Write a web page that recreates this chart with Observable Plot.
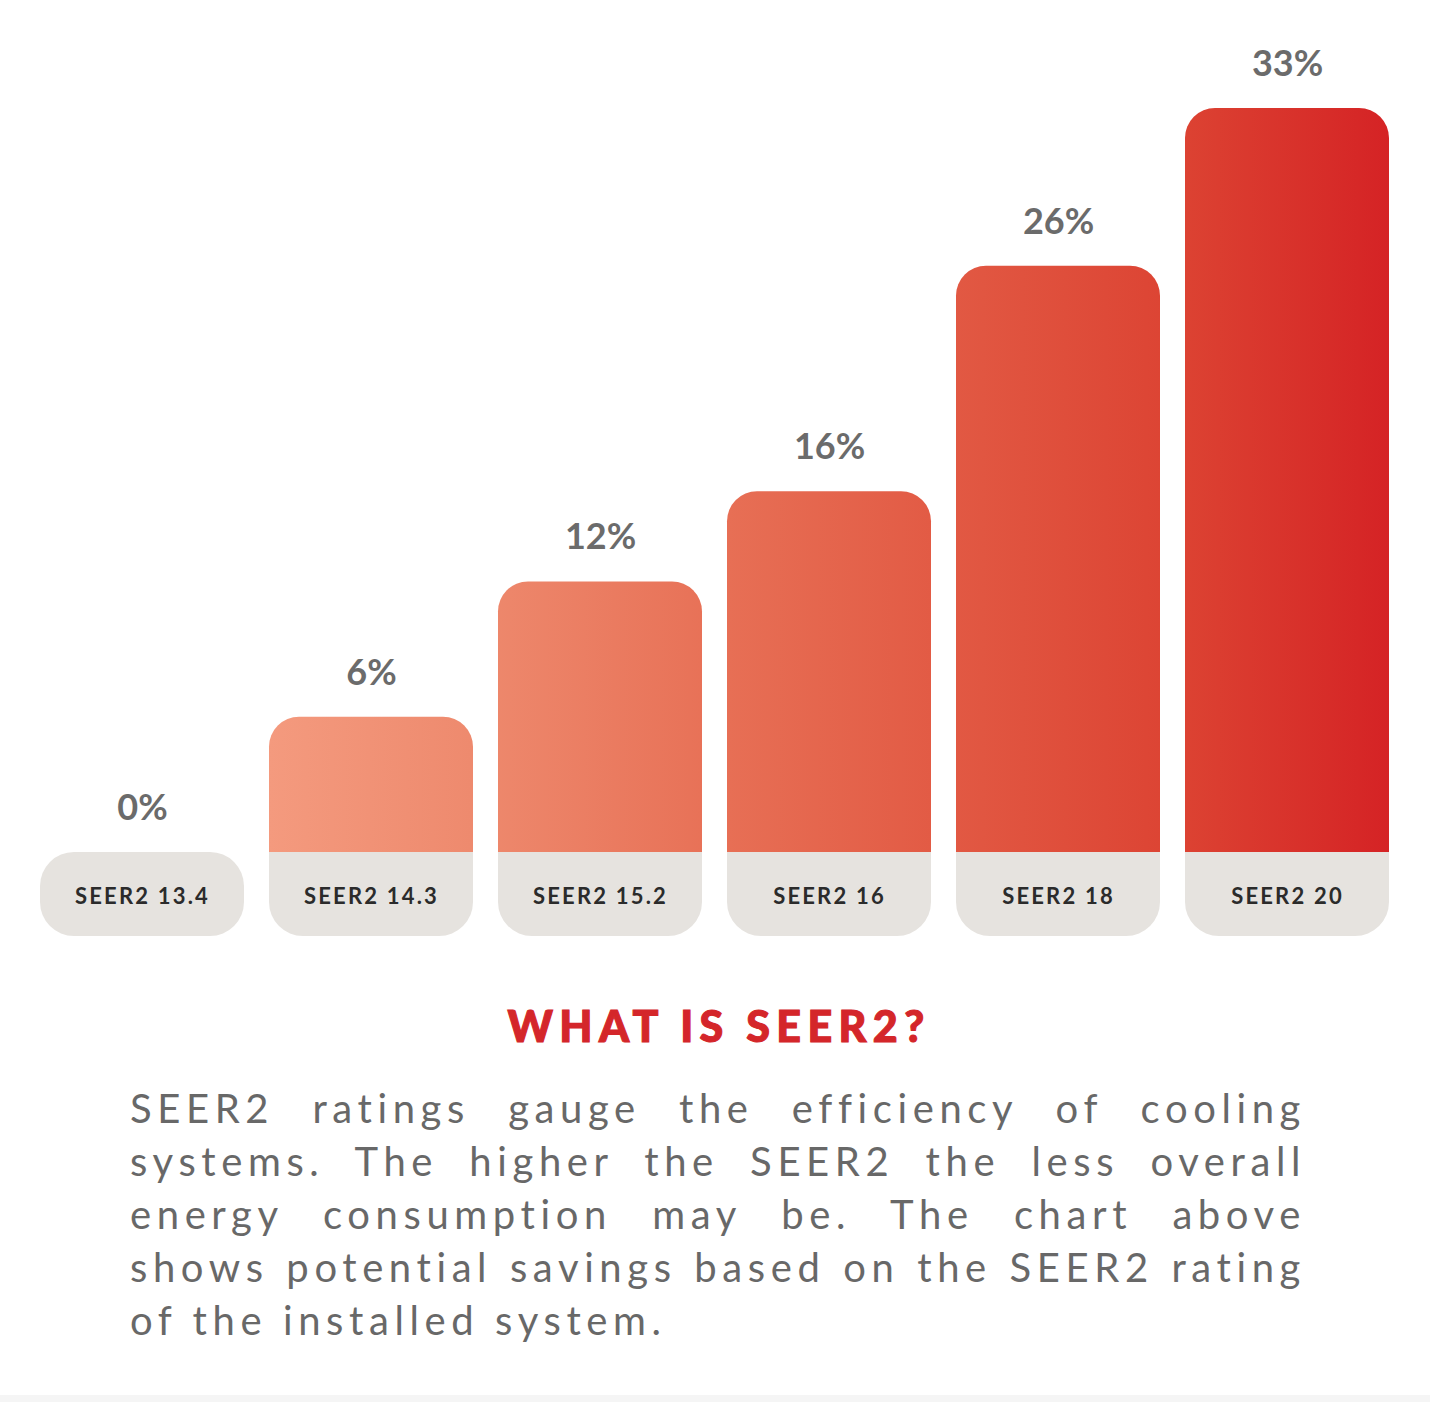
<!DOCTYPE html>
<html>
<head>
<meta charset="utf-8">
<script src="https://cdn.jsdelivr.net/npm/d3@7"></script>
<script src="https://cdn.jsdelivr.net/npm/@observablehq/plot@0.6"></script>
<style>
  html, body { margin: 0; padding: 0; background: #ffffff; }
  body { font-family: Lato, "Noto Sans", sans-serif; width: 1430px; height: 1402px; position: relative; overflow: hidden; }
  #chart { position: absolute; left: 0; top: 0; }
  #title { position: absolute; left: 0; top: 1001px; width: 1432px; padding-left: 6px; box-sizing: border-box; text-align: center; margin: 0;
           color: #d4262a; font-weight: 900; font-size: 43px; line-height: 50px; letter-spacing: 6.4px;
           -webkit-text-stroke: 1.1px #d4262a; }
  #desc { position: absolute; left: 130px; top: 1082px; width: 1176px; color: #686868;
          font-size: 40px; line-height: 53px; font-weight: 400; }
  #desc div { text-align: justify; text-align-last: justify; letter-spacing: 5.6px; white-space: nowrap; }
  #desc div.last { text-align-last: left; }
  #strip { position: absolute; left: 0; top: 1395px; width: 1430px; height: 7px; background: #f5f5f5; }
</style>
</head>
<body>
<div id="chart"></div>
<h2 id="title"></h2>
<div id="desc"></div>
<div id="strip"></div>
<script>
// ---- data ----
const categories = ["SEER2 13.4", "SEER2 14.3", "SEER2 15.2", "SEER2 16", "SEER2 18", "SEER2 20"];
const savings = [0, 6, 12, 16, 26, 33];
const valueLabels = ["0%", "6%", "12%", "16%", "26%", "33%"];
const titleText = "WHAT IS SEER2?";
const descLines = [
  "SEER2 ratings gauge the efficiency of cooling",
  "systems. The higher the SEER2 the less overall",
  "energy consumption may be. The chart above",
  "shows potential savings based on the SEER2 rating",
  "of the installed system."
];
const gradientStops = [
  [0, "#f49a7e"], [0.18, "#ee8a6e"], [0.41, "#e76f55"],
  [0.6, "#e25a44"], [0.82, "#dc4232"], [1, "#d52325"]
];

const data = categories.map((c, i) => ({cat: c, v: savings[i], label: valueLabels[i]}));
const raised = data.filter(d => d.v > 0);

const chart = Plot.plot({
  width: 1430,
  height: 960,
  marginLeft: 38,
  marginRight: 39,
  marginTop: 108,
  marginBottom: 108,
  x: {domain: categories, paddingInner: 0.11, paddingOuter: 0, axis: null},
  y: {domain: [0, 33], axis: null},
  style: {fontFamily: "Lato, 'Noto Sans', sans-serif", background: "transparent", overflow: "visible"},
  marks: [
    // bars with rounded tops
    Plot.barY(raised, {x: "cat", y: "v", fill: "url(#barGrad)", rx: 30}),
    Plot.barY(raised, {x: "cat", y1: 0, y2: 0, insetTop: -40, fill: "url(#barGrad)"}),
    // label pills
    Plot.barY(data, {x: "cat", y1: 0, y2: 0, insetBottom: -84, fill: "#e6e3df", rx: 34}),
    Plot.barY(raised, {x: "cat", y1: 0, y2: 0, insetBottom: -40, fill: "#e6e3df"}),
    // value labels
    Plot.text(data, {x: "cat", y: "v", text: "label", dy: -44, fontSize: 36, fontWeight: 700, fill: "#6b6b6b"}),
    // category labels
    Plot.text(data, {x: "cat", y: 0, text: "cat", dy: 44, fontSize: 22, fontWeight: 700, fill: "#2b2b2b"})
  ]
});

// gradient spanning the bars, positioned from the x scale
const xs = chart.scale("x");
const gx0 = xs.apply(categories[1]);
const gx1 = xs.apply(categories[categories.length - 1]) + xs.bandwidth;
const svg = d3.select(chart);
const grad = svg.insert("defs", ":first-child").append("linearGradient")
  .attr("id", "barGrad").attr("gradientUnits", "userSpaceOnUse")
  .attr("x1", gx0).attr("x2", gx1).attr("y1", 0).attr("y2", 0);
gradientStops.forEach(([o, c]) => grad.append("stop").attr("offset", o).attr("stop-color", c));

// letter spacing for category labels
const textGroups = svg.selectAll("g[aria-label='text']").nodes();
if (textGroups.length) d3.select(textGroups[textGroups.length - 1]).attr("letter-spacing", "2.2px");

document.getElementById("chart").appendChild(chart);
document.getElementById("title").textContent = titleText;
const desc = document.getElementById("desc");
descLines.forEach((t, i) => {
  const d = document.createElement("div");
  d.textContent = t;
  if (i === descLines.length - 1) d.className = "last";
  desc.appendChild(d);
});
</script>
</body>
</html>
